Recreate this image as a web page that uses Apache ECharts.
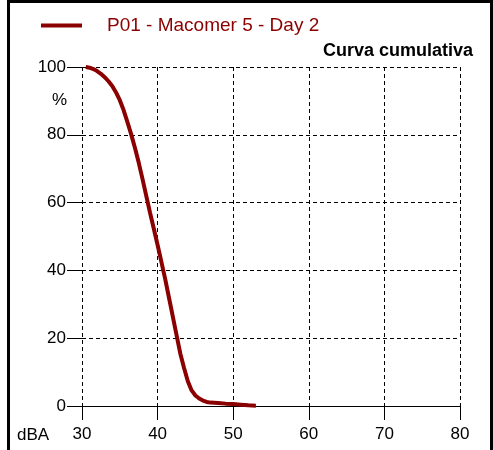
<!DOCTYPE html>
<html>
<head>
<meta charset="utf-8">
<script src="https://cdn.jsdelivr.net/npm/echarts@6/dist/echarts.min.js"></script>
<style>
  html, body { margin: 0; padding: 0; background: #fff; }
  #chart { width: 493px; height: 450px; }
</style>
</head>
<body>
<div id="chart"></div>
<script>
// Cumulative level distribution: percentage of time above each dBA level
var seriesName = 'P01 - Macomer 5 - Day 2';
var levels = [30.5, 31, 31.5, 32, 32.5, 33, 33.5, 34, 34.5, 35, 35.5, 36, 36.5, 37, 37.5,
              38, 38.5, 39, 39.5, 40, 40.5, 41, 41.5, 42, 42.5, 43, 43.5, 44, 44.5, 45,
              45.5, 46, 46.5, 47, 48, 49, 50, 51, 52, 53];
var percents = [100, 99.8, 99.4, 98.8, 98.0, 97.0, 95.8, 94.4, 92.5, 90.2, 87.3, 83.8, 80.2, 76.2, 71.8,
                67, 62, 57, 52.3, 47.5, 42.5, 37.5, 32, 26.5, 21, 15.5, 11.2, 7.3, 4.6, 3.1,
                2.2, 1.6, 1.2, 1.0, 0.9, 0.7, 0.6, 0.4, 0.2, 0.1];
var xTicks = [30, 40, 50, 60, 70, 80];
var yTicks = [0, 20, 40, 60, 80, 100];

var lineColor = '#8b0000';
var font = 'Liberation Sans, Arial, sans-serif';

var chart = echarts.init(document.getElementById('chart'), null, { renderer: 'canvas' });

var points = levels.map(function (v, i) { return [v, percents[i]]; });

chart.setOption({
  animation: false,
  backgroundColor: '#fff',
  grid: { left: 82, right: 33, top: 67, bottom: 44 },
  legend: {
    left: 41, top: 16,
    padding: 0,
    itemWidth: 41, itemHeight: 4,
    icon: 'rect',
    data: [seriesName],
    textStyle: { color: lineColor, fontSize: 19, fontFamily: font, padding: [0, 0, 0, 20] }
  },
  xAxis: {
    type: 'value',
    min: xTicks[0], max: xTicks[xTicks.length - 1], interval: 10,
    axisLine: { show: true, lineStyle: { color: '#000', width: 1 } },
    axisTick: { show: true, length: 14, lineStyle: { color: '#000' } },
    axisLabel: { color: '#000', fontSize: 17, fontFamily: font, margin: 20 },
    splitLine: { show: true, lineStyle: { color: '#000', type: [4, 3], width: 1 } }
  },
  yAxis: {
    type: 'value',
    min: yTicks[0], max: yTicks[yTicks.length - 1], interval: 20,
    axisLine: { show: false },
    axisTick: { show: true, length: 15, lineStyle: { color: '#000' } },
    axisLabel: { color: '#000', fontSize: 17, fontFamily: font, margin: 16 },
    splitLine: { show: true, lineStyle: { color: '#000', type: [4, 3], width: 1 } }
  },
  series: [{
    name: seriesName,
    type: 'line',
    data: points,
    showSymbol: false,
    smooth: false,
    color: lineColor,
    lineStyle: { color: lineColor, width: 4 },
    z: 5
  }],
  graphic: [
    {
      type: 'rect', silent: true,
      shape: { x: 8.5, y: 1.5, width: 483, height: 460 },
      style: { fill: null, stroke: '#000', lineWidth: 3 }
    },
    {
      type: 'text', right: 20, top: 42,
      style: { text: 'Curva cumulativa', fill: '#000', font: 'bold 18px ' + font }
    },
    {
      type: 'text', left: 52, top: 92,
      style: { text: '%', fill: '#000', font: '17px ' + font }
    },
    {
      type: 'text', left: 17, top: 427,
      style: { text: 'dBA', fill: '#000', font: '17px ' + font }
    }
  ]
});
</script>
</body>
</html>
